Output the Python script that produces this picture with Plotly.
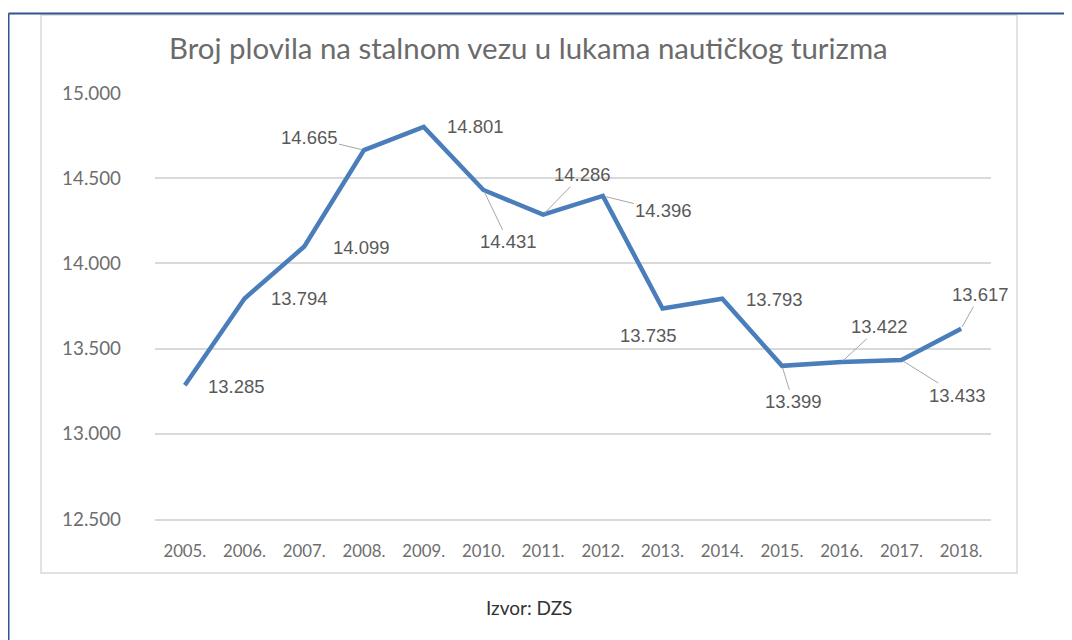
import plotly.graph_objects as go

years = ["2005.", "2006.", "2007.", "2008.", "2009.", "2010.", "2011.",
         "2012.", "2013.", "2014.", "2015.", "2016.", "2017.", "2018."]
vessels = [13285, 13794, 14099, 14665, 14801, 14431, 14286,
           14396, 13735, 13793, 13399, 13422, 13433, 13617]
value_labels = ["13.285", "13.794", "14.099", "14.665", "14.801", "14.431", "14.286",
                "14.396", "13.735", "13.793", "13.399", "13.422", "13.433", "13.617"]
y_tick_values = [12500, 13000, 13500, 14000, 14500, 15000]
y_tick_labels = ["12.500", "13.000", "13.500", "14.000", "14.500", "15.000"]
title_text = "Broj plovila na stalnom vezu u lukama nautičkog turizma"
source_text = "Izvor: DZS"

# label placement: (dx, dy) in pixels from the point (dy positive = down), leader line?
label_offsets = [(52, 1, False), (55, 0, False), (57, 1, False), (-55, -13, True),
                 (52, 0, False), (25, 52, True), (39, -40, True), (61, 15, True),
                 (-14, 27, False), (52, 1, False), (11, 36, True), (38, -35, True),
                 (56, 35, True), (19, -34, True)]

OFF = 8  # page body margin
W, H = 1072 - OFF, 640 - OFF
# plot area in page pixels: x 155..991, y 93..519
L, T = 155 - OFF, 93 - OFF
R, B = W - (991 - OFF), H - (519 - OFF)
pw, ph = W - L - R, H - T - B


def px(xp):
    return (xp - OFF - L) / pw


def py(yp):
    return (H - B - (yp - OFF)) / ph


idx = list(range(len(years)))

fig = go.Figure()
fig.add_trace(go.Scatter(
    x=idx, y=vessels, mode="lines",
    line=dict(color="#4a7ebb", width=4.5),
    text=years, hovertemplate="%{text}: %{y}<extra></extra>", showlegend=False,
))

label_font = dict(family="Liberation Sans, Arial, sans-serif", size=18.5, color="#595959")
annotations = []
for i, v, lab, (dx, dy, leader) in zip(idx, vessels, value_labels, label_offsets):
    if leader:
        annotations.append(dict(
            x=i, y=v, xref="x", yref="y", text=lab, showarrow=True,
            ax=dx, ay=dy, arrowhead=0, arrowwidth=1, arrowcolor="#a6a6a6",
            standoff=2, font=label_font,
        ))
    else:
        annotations.append(dict(
            x=i, y=v, xref="x", yref="y", text=lab, showarrow=False,
            xshift=dx, yshift=-dy, font=label_font,
        ))

annotations.append(dict(
    x=px(528), y=py(47), xref="paper", yref="paper", text=title_text,
    showarrow=False, xanchor="center", yanchor="middle",
    font=dict(family="Lato, sans-serif", size=29.4, color="#6b6b6b"),
))
annotations.append(dict(
    x=px(529), y=py(607), xref="paper", yref="paper", text=source_text,
    showarrow=False, xanchor="center", yanchor="middle",
    font=dict(family="Lato, sans-serif", size=19, color="#333333"),
))

shapes = [
    # inner chart frame
    dict(type="rect", xref="paper", yref="paper",
         x0=px(41), x1=px(1017), y0=py(573), y1=py(15),
         line=dict(color="#d9d9d9", width=1.5), fillcolor="rgba(0,0,0,0)", layer="below"),
    # outer blue border (top and left)
    dict(type="line", xref="paper", yref="paper",
         x0=px(8.5), x1=px(1090), y0=py(13.5), y1=py(13.5),
         line=dict(color="#2f5597", width=2)),
    dict(type="line", xref="paper", yref="paper",
         x0=px(8.5), x1=px(8.5), y0=py(13.5), y1=py(660),
         line=dict(color="#2f5597", width=2)),
]

fig.update_layout(
    width=W, height=H,
    margin=dict(l=L, r=R, t=T, b=B),
    paper_bgcolor="white", plot_bgcolor="white",
    annotations=annotations, shapes=shapes,
    xaxis=dict(
        range=[-0.5, len(years) - 0.5], tickvals=idx, ticktext=years,
        showgrid=False, zeroline=False,
        showline=True, linecolor="#d9d9d9", linewidth=1.5, ticks="",
        tickfont=dict(family="Lato, sans-serif", size=16.8, color="#6e6e6e"),
        ticklabelstandoff=16,
    ),
    yaxis=dict(
        range=[12500, 15000], tickvals=y_tick_values, ticktext=y_tick_labels,
        showgrid=True, gridcolor="#d9d9d9", gridwidth=1.5,
        zeroline=False, showline=False, ticks="",
        tickfont=dict(family="Lato, sans-serif", size=18.8, color="#6e6e6e"),
        ticklabelstandoff=33,
    ),
)

fig.write_html("out.html")
